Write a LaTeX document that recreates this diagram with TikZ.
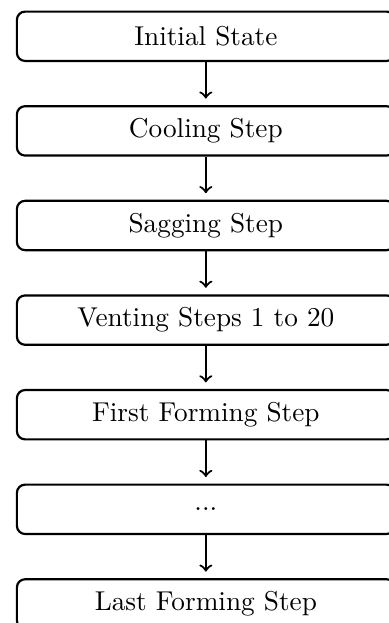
\documentclass[tikz,border=0pt]{standalone}
\usetikzlibrary{positioning}
\tikzset{stepbox/.style={draw,rounded corners=3pt,minimum width=138.6pt,minimum height=18.1pt,inner sep=0pt}}
\begin{document}
\begin{tikzpicture}[line width=0.8pt,line join=round,>=to,node distance=15.8pt]
		\useasboundingbox (0,0) rectangle (142.6pt,-228.5pt);
		\node[stepbox] (init) at (75.5pt,-13.3pt) {Initial State};
		\node[stepbox,below=of init] (cool) {Cooling Step};
		\node[stepbox,below=of cool] (sag) {Sagging Step};
		\node[stepbox,below=of sag] (vent) {Venting Steps 1 to 20};
		\node[stepbox,below=of vent] (first) {First Forming Step};
		\node[stepbox,below=of first] (dots) {...};
		\node[stepbox,below=of dots] (last) {Last Forming Step};
		%arrows
		\draw[->,shorten >=2.4pt] (init) -- (cool);
		\draw[->,shorten >=2.4pt] (cool) -- (sag);
		\draw[->,shorten >=2.4pt] (sag) -- (vent);
		\draw[->,shorten >=2.4pt] (vent) -- (first);
		\draw[->,shorten >=2.4pt] (first) -- (dots);
		\draw[->,shorten >=2.4pt] (dots) -- (last);
\end{tikzpicture}
\end{document}
